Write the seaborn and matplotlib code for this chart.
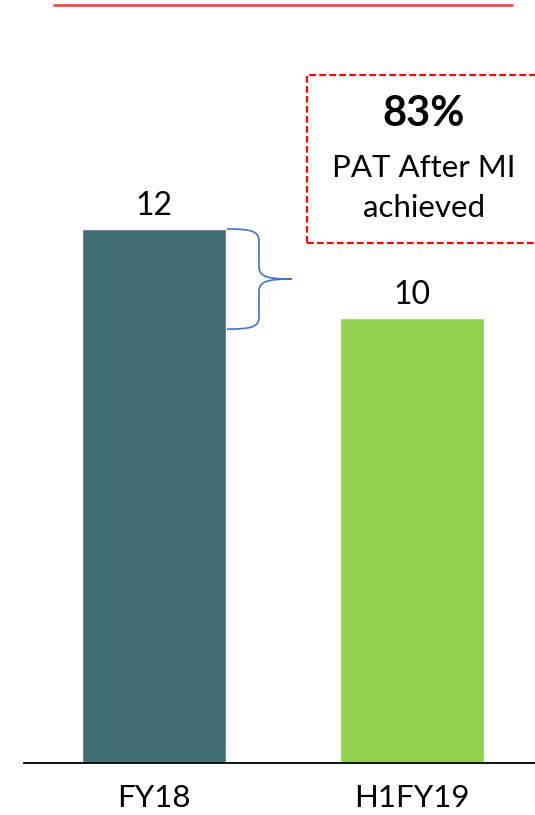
import matplotlib
matplotlib.use("Agg")
import matplotlib.pyplot as plt
import seaborn as sns
from matplotlib.path import Path
from matplotlib.patches import PathPatch, Rectangle
from matplotlib.lines import Line2D

categories = ["FY18", "H1FY19"]
values = [12, 10]
bar_colors = ["#436E74", "#92D050"]
callout_pct = "83%"
callout_text = "PAT After MI\nachieved"

sns.set_theme(style="white")
plt.rcParams["font.family"] = ["Lato", "DejaVu Sans"]

W, H = 535, 815
fig = plt.figure(figsize=(W / 100, H / 100), dpi=100)
fig.patch.set_facecolor("white")

def fx(x):
    return x / W

def fy(y):
    return 1 - y / H

ax = fig.add_axes([fx(24), fy(763), 1 - fx(24), 763 / H])
sns.barplot(x=categories, y=values, hue=categories, palette=bar_colors,
            width=0.558, legend=False, ax=ax, saturation=1)
ax.set_xlim(-0.504, 1.477)
ax.set_ylim(0, 763 / 44.5)
for s in ["top", "right", "left"]:
    ax.spines[s].set_visible(False)
ax.spines["bottom"].set_color("black")
ax.spines["bottom"].set_linewidth(1.3)
ax.set_yticks([])
ax.set_xlabel("")
ax.set_ylabel("")
ax.tick_params(axis="x", length=0, pad=15, labelsize=22.5, labelcolor="black")
ax.set_facecolor("white")

for cont in ax.containers:
    ax.bar_label(cont, fmt="%d", padding=6, fontsize=23, color="black")

# brace between bar tops
bar0 = ax.patches[0]
x0 = bar0.get_x() + bar0.get_width()
p_top = ax.transData.transform((x0, values[0]))
p_bot = ax.transData.transform((x0, values[1] - 0.25))
xl = p_top[0] + 1
yt, yb = p_top[1], p_bot[1]
xv = xl + 32
xt = xl + 65
ym = (yt + yb) / 2
verts = [
    (xl, yt), (xv - 8, yt), (xv, yt - 2), (xv, yt - 12),
    (xv, ym + 12),
    (xv, ym + 2), (xv + 10, ym), (xt, ym),
    (xv + 10, ym), (xv, ym - 2), (xv, ym - 12),
    (xv, yb + 12),
    (xv, yb + 2), (xv - 8, yb), (xl, yb),
]
codes = [Path.MOVETO, Path.CURVE4, Path.CURVE4, Path.CURVE4,
         Path.LINETO,
         Path.CURVE4, Path.CURVE4, Path.CURVE4,
         Path.CURVE4, Path.CURVE4, Path.CURVE4,
         Path.LINETO,
         Path.CURVE4, Path.CURVE4, Path.CURVE4]
brace = PathPatch(Path(verts, codes), transform=None, facecolor="none",
                  edgecolor="#4472C4", linewidth=1.2)
fig.patches.append(brace)

# dashed callout box
box = Rectangle((fx(307), fy(243)), fx(545) - fx(307), fy(75) - fy(243),
                transform=fig.transFigure, fill=False, edgecolor="#FF0000",
                linestyle=(0, (3, 1.5)), linewidth=1.6, clip_on=False)
fig.patches.append(box)
fig.text(fx(424), fy(114), callout_pct, ha="center", va="center",
         fontsize=30, fontweight="bold", color="black")
fig.text(fx(424), fy(188), callout_text, ha="center", va="center",
         fontsize=22.5, color="black", linespacing=1.5)

# top red rule
fig.add_artist(Line2D([fx(54), fx(512)], [fy(4.5), fy(4.5)], color="#E8504C",
                      linewidth=2.0, transform=fig.transFigure))

fig.savefig("out.png", dpi=100, facecolor="white")
